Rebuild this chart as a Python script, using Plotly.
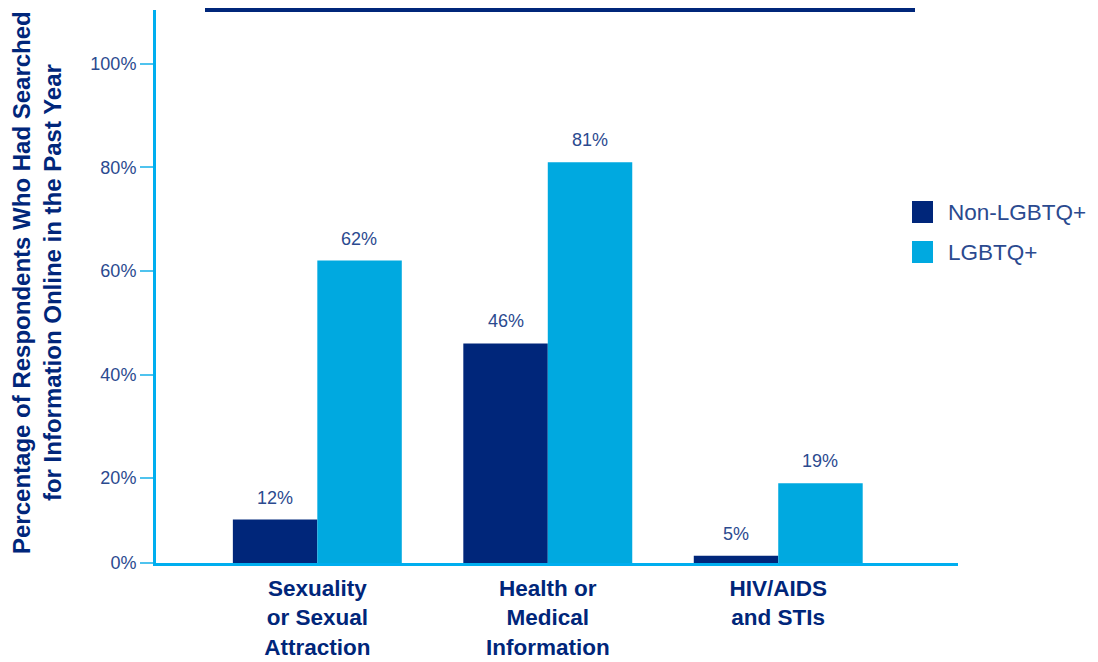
import plotly.graph_objects as go

categories = ["Sexuality<br>or Sexual<br>Attraction", "Health or<br>Medical<br>Information", "HIV/AIDS<br>and STIs"]
series_names = ["Non-LGBTQ+", "LGBTQ+"]
non_lgbtq = [12, 46, 5]
lgbtq = [62, 81, 19]
y_tick_values = [20, 40, 60, 80, 100]
y_tick_labels = ["0%", "20%", "40%", "60%", "80%", "100%"]

NAVY = "#00267A"
LIGHT = "#00A9E0"
AXIS = "#00AEEF"
TXT = "#2B4A8F"
FONT = "Liberation Sans, Arial, Helvetica, sans-serif"
Y_BASE = 3.6  # visual baseline of the original chart's axis

fig = go.Figure()
for name, vals, col in [(series_names[0], non_lgbtq, NAVY), (series_names[1], lgbtq, LIGHT)]:
    fig.add_trace(go.Bar(x=categories, y=vals, name=name, marker=dict(color=col, line=dict(width=0)),
                         showlegend=False))

annotations = []
for vals, shift in [(non_lgbtq, -42), (lgbtq, 42)]:
    for c, v in zip(categories, vals):
        annotations.append(dict(x=c, y=v, xref="x", yref="y", text=f"{v}%", showarrow=False,
                                xshift=shift, yshift=10, yanchor="bottom",
                                font=dict(family=FONT, size=18, color=TXT)))

# y-axis title
annotations.append(dict(x=(37 - 156) / 802, y=(563 - 283) / 553, xref="paper", yref="paper",
                        xanchor="center", yanchor="middle",
                        text="<b>Percentage of Respondents Who Had Searched<br>for Information Online in the Past Year</b>",
                        textangle=-90, showarrow=False,
                        font=dict(family=FONT, size=24, color=NAVY)))

# legend
shapes = []
for i, (name, col) in enumerate(zip(series_names, [NAVY, LIGHT])):
    y_top = 201 + i * 40
    shapes.append(dict(type="rect", xref="paper", yref="paper",
                       x0=(912 - 156) / 802, x1=(933 - 156) / 802,
                       y0=(563 - y_top - 22) / 553, y1=(563 - y_top) / 553,
                       fillcolor=col, line=dict(width=0)))
    annotations.append(dict(x=(946 - 156) / 802, y=(563 - y_top - 11) / 553, xref="paper", yref="paper",
                            xanchor="left", yanchor="middle", text=name, showarrow=False,
                            font=dict(family=FONT, size=22.5, color=TXT)))

# top banner
shapes.append(dict(type="rect", xref="paper", yref="paper",
                   x0=(205 - 156) / 802, x1=(915 - 156) / 802,
                   y0=(563 - 12) / 553, y1=(563 + 10) / 553,
                   fillcolor=NAVY, line=dict(width=0), layer="above"))

fig.update_layout(
    width=1098, height=662,
    margin=dict(l=148, r=148, t=2, b=107),
    plot_bgcolor="white", paper_bgcolor="white",
    barmode="group", bargap=0.267, bargroupgap=0,
    annotations=annotations, shapes=shapes,
    xaxis=dict(range=[-0.70, 2.78], showline=True, linecolor=AXIS, linewidth=3,
               ticks="", showgrid=False, zeroline=False, ticklabelstandoff=3,
               tickfont=dict(family=FONT, size=22.5, color=NAVY)),
    yaxis=dict(range=[Y_BASE, 110.4], showline=True, linecolor=AXIS, linewidth=3,
               tickvals=[Y_BASE] + y_tick_values, ticktext=y_tick_labels,
               ticks="outside", ticklen=13, tickwidth=2, tickcolor="#4FC3EE",
               showgrid=False, zeroline=False,
               tickfont=dict(family=FONT, size=18, color=TXT)),
)
fig.update_xaxes(tickvals=categories, ticktext=["<b>" + c + "</b>" for c in categories])

fig.write_html("out.html")
